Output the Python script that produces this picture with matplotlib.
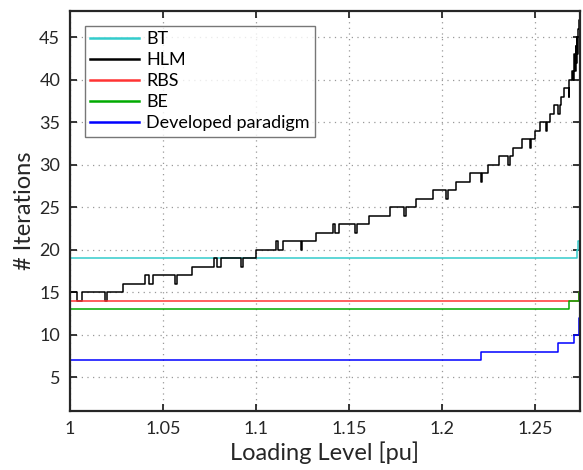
import matplotlib
matplotlib.use("Agg")
import matplotlib.pyplot as plt

plt.rcParams['font.family'] = ['Lato', 'DejaVu Sans']

# step data: x where a level starts, and the level
hlm_x = [1.0, 1.0036, 1.0066, 1.0190, 1.0201, 1.0283, 1.0405, 1.0426, 1.0448, 1.0566,
         1.0577, 1.0656, 1.0772, 1.0789, 1.0814, 1.0918, 1.0928, 1.1000, 1.1108, 1.1118,
         1.1143, 1.1240, 1.1249, 1.1323, 1.1416, 1.1425, 1.1448, 1.1534, 1.1543, 1.1608,
         1.1719, 1.1796, 1.1805, 1.1858, 1.1953, 1.2022, 1.2030, 1.2075, 1.2147, 1.2208,
         1.2216, 1.2249, 1.2303, 1.2356, 1.2364, 1.2383, 1.2428, 1.2473, 1.2480, 1.2500,
         1.2527, 1.2559, 1.2566, 1.2581, 1.2602, 1.2625, 1.2631, 1.2638, 1.2656, 1.2679,
         1.2684, 1.2697, 1.2702, 1.2706, 1.2711, 1.2714, 1.2717, 1.2721, 1.2724, 1.2727,
         1.2730, 1.2733, 1.2738]
hlm_y = [15, 14, 15, 14, 15, 16, 17, 16, 17, 16,
         17, 18, 19, 18, 19, 18, 19, 20, 21, 20,
         21, 20, 21, 22, 23, 22, 23, 22, 23, 24,
         25, 24, 25, 26, 27, 26, 27, 28, 29, 28,
         29, 30, 31, 30, 31, 32, 33, 32, 33, 34,
         35, 34, 35, 36, 37, 36, 37, 38, 39, 38,
         40, 41, 40, 42, 43, 41, 44, 42, 45, 43,
         46, 47, 47]

bt_x = [1.0, 1.2724, 1.2731, 1.2738]
bt_y = [19, 20, 21, 21]

rbs_x = [1.0, 1.2735, 1.2738]
rbs_y = [14, 15, 15]

be_x = [1.0, 1.2684, 1.2733, 1.2738]
be_y = [13, 14, 15, 15]

dev_x = [1.0, 1.2208, 1.2625, 1.2711, 1.2735, 1.2738]
dev_y = [7, 8, 9, 10, 12, 12]

fig = plt.figure(figsize=(5.83, 4.70), dpi=100)
ax = fig.add_axes([0.120, 0.125, 0.874, 0.852])

ax.plot(bt_x, bt_y, drawstyle='steps-post', color='#33cccc', lw=1.1, label='BT')
ax.plot(hlm_x, hlm_y, drawstyle='steps-post', color='black', lw=1.1, label='HLM')
ax.plot(rbs_x, rbs_y, drawstyle='steps-post', color='#ff3333', lw=1.1, label='RBS')
ax.plot(be_x, be_y, drawstyle='steps-post', color='#00aa00', lw=1.1, label='BE')
ax.plot(dev_x, dev_y, drawstyle='steps-post', color='#0000ff', lw=1.1, label='Developed paradigm')

ax.set_xlim(1.0, 1.2738)
ax.set_ylim(1, 48.1)
ax.set_xticks([1.0, 1.05, 1.1, 1.15, 1.2, 1.25])
ax.set_xticklabels(['1', '1.05', '1.1', '1.15', '1.2', '1.25'])
ax.set_yticks([5, 10, 15, 20, 25, 30, 35, 40, 45])

ax.grid(True, linestyle=(0, (1, 3.5)), color='#999999', lw=0.9)
ax.tick_params(direction='in', length=5, width=1.3, top=True, right=True,
               labelsize=13, colors='#262626', pad=7)
for s in ax.spines.values():
    s.set_linewidth(1.6)
    s.set_color('#262626')

ax.set_xlabel('Loading Level [pu]', fontsize=17, color='#262626', labelpad=3)
ax.set_ylabel('# Iterations', fontsize=17, color='#262626', labelpad=3)

leg = ax.legend(loc='upper left', bbox_to_anchor=(0.029, 0.963), fontsize=13,
                frameon=True, fancybox=False, edgecolor='#555555',
                handlelength=2.7, handletextpad=0.4, labelspacing=0.28,
                borderpad=0.3, borderaxespad=0)
leg.get_frame().set_linewidth(1.0)
for line in leg.get_lines():
    line.set_linewidth(1.8)

fig.savefig('out.png', dpi=100)
